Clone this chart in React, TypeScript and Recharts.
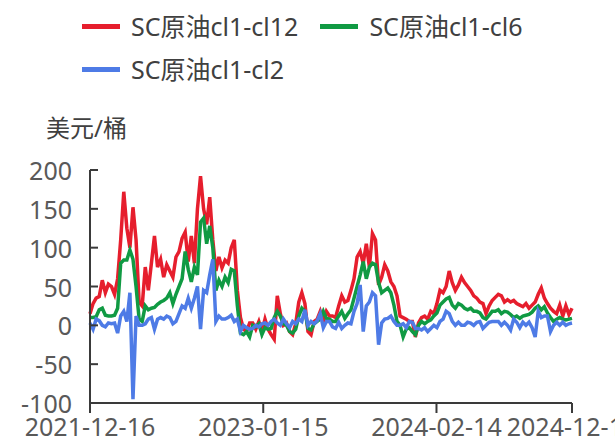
import React from "react"
import { LineChart, Line, XAxis, YAxis, Legend, Label } from "recharts"

// weekly samples of the SC crude calendar spreads, USD/bbl
const START_DATE = Date.UTC(2021, 11, 16)
const STEP_DAYS = 7

const spreadCl12 = [
	15, 28, 35, 37, 58, 42, 53, 50, 40, 60,
	110, 172, 125, 100, 152, 110, 30, 25, 75, 45,
	80, 115, 75, 85, 62, 78, 70, 62, 88, 95,
	112, 120, 82, 115, 80, 150, 192, 150, 130, 165,
	110, 70, 88, 74, 84, 80, 100, 110, 45, 10,
	-5, -8, 3, 3, -5, 5, -8, 8, -5, -12,
	-18, 38, 15, 0, 3, -8, -12, 2, 30, 42,
	28, -8, -12, 5, 8, 18, 5, 18, 12, 12,
	10, 25, 38, 30, 32, 45, 60, 88, 95, 80,
	105, 75, 118, 110, 52, 62, 78, 70, 56, 50,
	38, 12, 10, 8, 5, 5, -15, 3, 10, 12,
	8, 18, 15, 28, 45, 42, 50, 70, 55, 45,
	52, 62, 55, 50, 45, 38, 35, 30, 28, 15,
	25, 32, 36, 40, 38, 30, 33, 30, 32, 28,
	26, 24, 28, 22, 26, 30, 40, 48, 35, 28,
	22, 18, 15, 26, 12, 25, 14, 22,
]

const spreadCl6 = [
	10, 10, 11, 20, 22, 13, 12, 12, 13, 22,
	80, 84, 84, 97, 85, 50, 8, 5, 25, 20,
	22, 23, 27, 30, 32, 35, 42, 28, 40, 50,
	60, 95, 72, 56, 75, 65, 133, 138, 105, 128,
	100, 45, 58, 50, 62, 55, 72, 70, 25, -10,
	-12, -8, -15, 0, -2, 2, -12, -3, -5, -4,
	10, 18, 12, 2, 0, -8, -10, -5, 12, 22,
	18, -4, -6, 2, 5, 8, 18, 9, 8, 5,
	5, 12, 18, 9, 15, 20, 35, 50, 65, 82,
	60, 75, 80, 78, 55, 42, 45, 48, 42, 26,
	5, 0, -15, -5, -3, -8, -12, 0, 5, 2,
	5, 7, 12, 16, 26, 30, 34, 36, 26, 22,
	28, 26, 22, 20, 22, 18, 18, 16, 10, 8,
	13, 18, 18, 20, 15, 18, 17, 14, 10, 12,
	9, 12, 13, 14, 17, 22, 25, 20, 24, 16,
	10, 5, 8, 10, 8, 7, 8, 9,
]

const spreadCl2 = [
	3, -5, 8, 6, 0, -2, 3, 2, 3, -10,
	12, 18, 5, 42, -95, 12, 0, 0, 2, 8,
	10, -5, 8, 10, 8, 12, 10, 2, 5, 15,
	25, 22, 35, 22, 35, 50, -5, 45, 42, 65,
	85, 5, 12, 8, 8, 10, 13, 5, 8, -8,
	0, -3, -5, -4, 0, -2, 2, 3, 0, 5,
	8, 3, 0, 8, 2, -3, 5, 2, 8, 5,
	20, 0, 5, 2, 6, 15, -3, 5, 5, -2,
	-4, 4, -4, 0, 3, 2, 18, 28, 52, -8,
	25, 30, 42, 38, -25, 3, 8, 9, 12, 5,
	0, 0, 2, -3, 5, 4, -4, -4, -6, -3,
	-8, -4, 0, -3, 5, 8, 18, 15, 5, 0,
	4, 0, 0, 4, 3, 0, 4, 5, -4, 0,
	4, 5, 5, 5, 0, 4, 0, -6, 8, 4,
	-3, 4, 0, 4, -3, -15, 18, 10, 12, 12,
	-8, 0, 4, 0, 4, 0, 2, 3,
]

const xTicks = [0, 395, 790, 1099]
const yTicks = [-100, -50, 0, 50, 100, 150, 200]

const series = [
	{ key: "cl12", name: "SC原油cl1-cl12", color: "#E61E2D" },
	{ key: "cl6", name: "SC原油cl1-cl6", color: "#109A43" },
	{ key: "cl2", name: "SC原油cl1-cl2", color: "#4E7BE6" },
]

const data = spreadCl12.map((v, i) => ({
	day: i * STEP_DAYS,
	cl12: v,
	cl6: spreadCl6[i],
	cl2: spreadCl2[i],
}))

const FONT = "'Noto Sans', 'Noto Sans CJK SC', sans-serif"
const FONT_SIZE = 25
const TEXT = "#595959"
const AXIS = "#3a3a3a"
const PLOT_LEFT = 90

const fmtDate = (d: number) =>
	new Date(START_DATE + d * 86400000).toISOString().slice(0, 10)

const YTick = (props: any) => {
	const { y, payload } = props
	return (
		<g>
			<line x1={PLOT_LEFT} x2={PLOT_LEFT + 8} y1={y} y2={y} stroke={AXIS} strokeWidth={2} />
			<text
				x={72}
				y={y}
				textAnchor="end"
				dominantBaseline="central"
				fill={TEXT}
				fontSize={FONT_SIZE}
				fontFamily={FONT}>
				{payload.value}
			</text>
		</g>
	)
}

const renderLegend = () => (
	<div
		style={{
			display: "flex",
			flexWrap: "wrap",
			width: 560,
			boxSizing: "border-box",
			paddingLeft: 82,
			paddingTop: 10,
			columnGap: 22,
			rowGap: 10,
			fontFamily: FONT,
			fontSize: FONT_SIZE,
			lineHeight: "33px",
			color: "#404040",
		}}>
		{series.map((s) => (
			<div key={s.key} style={{ display: "flex", alignItems: "center" }}>
				<span
					style={{
						display: "inline-block",
						width: 38,
						height: 5,
						background: s.color,
						marginRight: 11,
					}}
				/>
				<span>{s.name}</span>
			</div>
		))}
	</div>
)

const App: React.FC = () => {
	return (
		<div style={{ position: "absolute", left: 0, top: 0, width: 615, height: 439 }}>
			<LineChart
				width={615}
				height={439}
				data={data}
				margin={{ top: 170, right: 43, bottom: 6, left: 0 }}>
				<Legend
					verticalAlign="middle"
					align="center"
					layout="horizontal"
					wrapperStyle={{ top: 0, left: 0, width: 615 }}
					content={renderLegend}
				/>
				<XAxis
					dataKey="day"
					type="number"
					domain={[0, 1099]}
					ticks={xTicks}
					tickFormatter={fmtDate}
					height={30}
					tickSize={10}
					tickMargin={5}
					interval={0}
					axisLine={{ stroke: AXIS, strokeWidth: 2 }}
					tickLine={{ stroke: AXIS, strokeWidth: 2 }}
					tick={{ fill: TEXT, fontSize: FONT_SIZE, fontFamily: FONT }}
				/>
				<YAxis
					type="number"
					domain={[-100, 200]}
					ticks={yTicks}
					width={90}
					interval={0}
					axisLine={{ stroke: AXIS, strokeWidth: 2 }}
					tickLine={false}
					tick={<YTick />}>
					<Label
						content={() => (
							<text
								x={46}
								y={127}
								dominantBaseline="central"
								fill="#404040"
								fontSize={24}
								fontFamily={FONT}>
								美元/桶
							</text>
						)}
					/>
				</YAxis>
				{series.map((s) => (
					<Line
						key={s.key}
						type="linear"
						dataKey={s.key}
						name={s.name}
						stroke={s.color}
						strokeWidth={3.5}
						dot={false}
						isAnimationActive={false}
					/>
				))}
			</LineChart>
		</div>
	)
}

export default App
